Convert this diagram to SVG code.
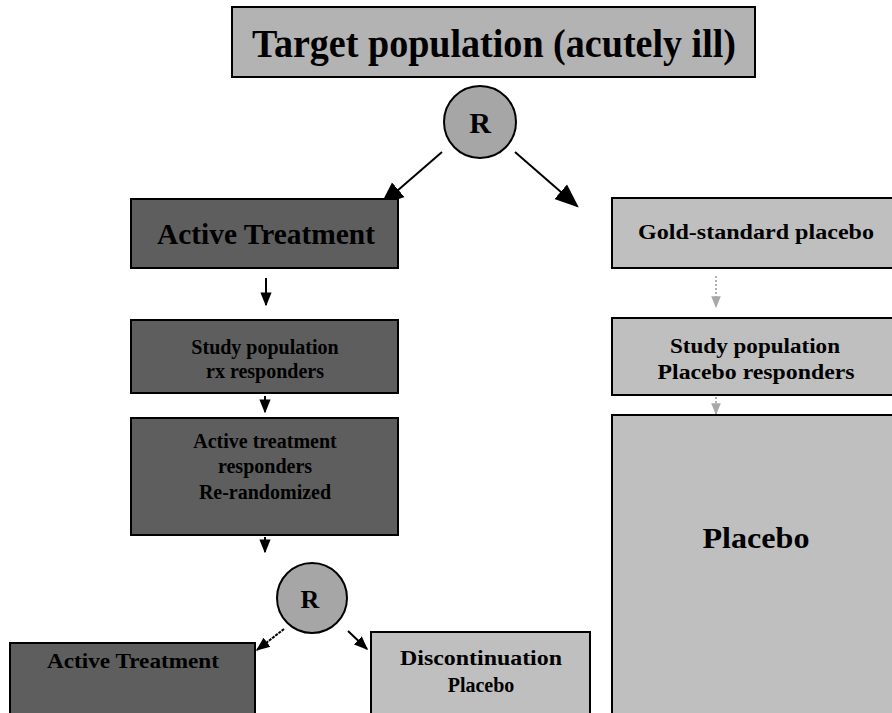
<svg xmlns="http://www.w3.org/2000/svg" width="892" height="713" viewBox="0 0 892 713">
<style>
text{font-family:"Liberation Serif","Times New Roman",serif;font-weight:bold;fill:#000;text-anchor:middle}
.box{stroke:#000;stroke-width:2}
.mid{fill:#b3b3b3}
.dark{fill:#5e5e5e}
.light{fill:#bfbfbf}
.circ{fill:#a6a6a6;stroke:#000;stroke-width:2}
.con{stroke:#000;stroke-width:2;fill:none}
.faint{stroke:#b0b0b0;stroke-width:2;fill:none;stroke-dasharray:2 2}
</style>
<defs>
<marker id="ah" viewBox="0 0 10 10" refX="9" refY="5" markerWidth="6" markerHeight="6" orient="auto" markerUnits="userSpaceOnUse"><path d="M0,0 L10,5 L0,10 z" fill="#000"/></marker>
<marker id="big" viewBox="0 0 10 10" refX="9" refY="5" markerWidth="24" markerHeight="24" orient="auto" markerUnits="userSpaceOnUse"><path d="M0,1 L10,5 L0,9 z" fill="#000"/></marker>
<marker id="med" viewBox="0 0 10 10" refX="9" refY="5" markerWidth="14" markerHeight="14" orient="auto" markerUnits="userSpaceOnUse"><path d="M0,1 L10,5 L0,9 z" fill="#000"/></marker>
<marker id="grey" viewBox="0 0 10 10" refX="9" refY="5" markerWidth="12" markerHeight="12" orient="auto" markerUnits="userSpaceOnUse"><path d="M0,1 L10,5 L0,9 z" fill="#a8a8a8"/></marker>
</defs>

<g id="connectors">
<line class="con" x1="442" y1="152" x2="382" y2="204" marker-end="url(#big)"/>
<line class="con" x1="515" y1="152" x2="577" y2="206" marker-end="url(#big)"/>
<line class="con" x1="266" y1="278" x2="266" y2="305" marker-end="url(#med)"/>
<line class="con" x1="265" y1="396" x2="265" y2="412" marker-end="url(#med)"/>
<line class="con" x1="265" y1="537" x2="265" y2="552" marker-end="url(#med)"/>
<line class="con" x1="284" y1="629" x2="257" y2="650" stroke-dasharray="3 1" marker-end="url(#med)"/>
<line class="con" x1="348" y1="631" x2="367" y2="649" marker-end="url(#med)"/>
<line class="faint" x1="716" y1="276" x2="716" y2="307" marker-end="url(#grey)"/>
<line class="faint" x1="716" y1="397" x2="716" y2="414" marker-end="url(#grey)"/>
</g>

<g id="target">
<rect class="box mid" x="232" y="7" width="523" height="70"/>
<text x="494" y="57" font-size="40" textLength="484" lengthAdjust="spacingAndGlyphs">Target population (acutely ill)</text>
</g>

<g id="r1">
<circle class="circ" cx="480" cy="122" r="36"/>
<text x="480" y="133" font-size="30">R</text>
</g>

<g id="active1">
<rect class="box dark" x="131" y="199" width="267" height="69"/>
<text x="266" y="244" font-size="30" textLength="218" lengthAdjust="spacingAndGlyphs">Active Treatment</text>
</g>

<g id="gold">
<rect class="box light" x="612" y="198" width="282" height="70"/>
<text x="756" y="239" font-size="22" textLength="236" lengthAdjust="spacingAndGlyphs">Gold-standard placebo</text>
</g>

<g id="study-rx">
<rect class="box dark" x="131" y="320" width="267" height="73"/>
<text x="265" y="354" font-size="20">Study population</text>
<text x="265" y="378" font-size="20">rx responders</text>
</g>

<g id="active-resp">
<rect class="box dark" x="131" y="418" width="267" height="117"/>
<text x="265" y="448" font-size="20">Active treatment</text>
<text x="265" y="473" font-size="20">responders</text>
<text x="265" y="499" font-size="20">Re-randomized</text>
</g>

<g id="r2">
<circle class="circ" cx="312" cy="598" r="35"/>
<text x="310" y="608" font-size="26">R</text>
</g>

<g id="active2">
<rect class="box dark" x="10" y="643" width="245" height="72"/>
<text x="133" y="668" font-size="21" textLength="172" lengthAdjust="spacingAndGlyphs">Active Treatment</text>
</g>

<g id="discontinuation">
<rect class="box light" x="371" y="632" width="219" height="83"/>
<text x="481" y="665" font-size="20" textLength="162" lengthAdjust="spacingAndGlyphs">Discontinuation</text>
<text x="481" y="692" font-size="20">Placebo</text>
</g>

<g id="study-placebo">
<rect class="box light" x="612" y="318" width="282" height="77"/>
<text x="755" y="353" font-size="20" textLength="170" lengthAdjust="spacingAndGlyphs">Study population</text>
<text x="756" y="379" font-size="20" textLength="197" lengthAdjust="spacingAndGlyphs">Placebo responders</text>
</g>

<g id="placebo">
<rect class="box light" x="612" y="415" width="282" height="300"/>
<text x="756" y="548" font-size="30" textLength="107" lengthAdjust="spacingAndGlyphs">Placebo</text>
</g>
</svg>
